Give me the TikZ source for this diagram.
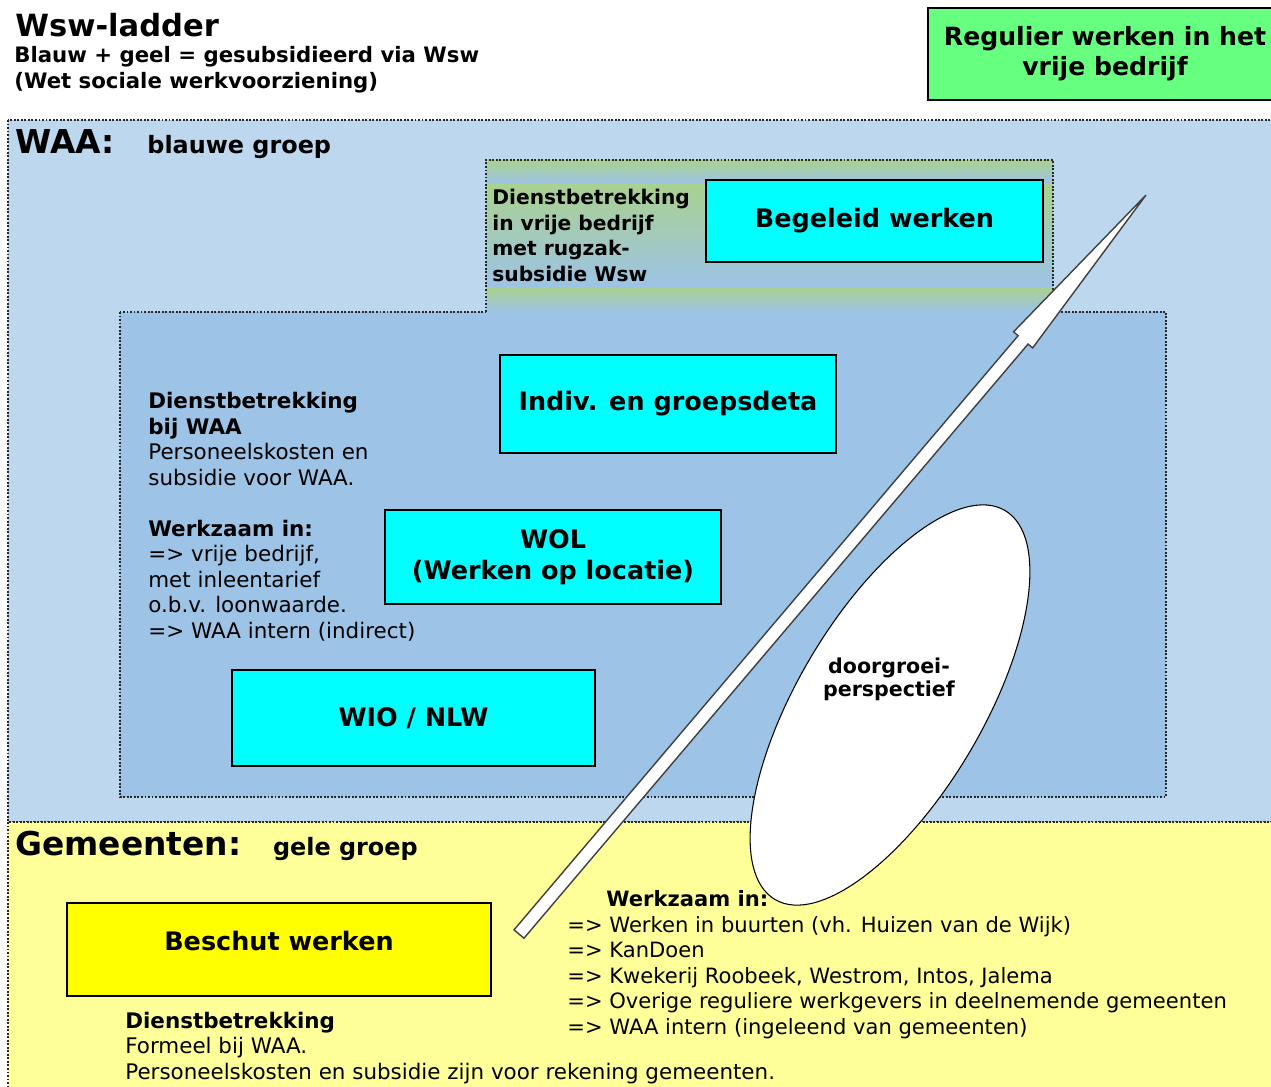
\documentclass[tikz,border=0pt]{standalone}
\usepackage{fontspec}
\setmainfont{DejaVu Sans}
\usetikzlibrary{calc,shapes,positioning}
\definecolor{waablauw}{HTML}{BDD7EE}
\definecolor{waadonker}{HTML}{9DC3E6}
\definecolor{gemgeel}{HTML}{FFFF99}
\definecolor{vrijgroen}{HTML}{66FF80}
\definecolor{rugzakgroen}{HTML}{A9D18E}
\definecolor{beschutgeel}{HTML}{FFFF00}
\definecolor{turkoois}{HTML}{00FFFF}
\tikzset{%
  zone/.style={draw=black!85,line width=0.8pt,dash pattern=on 1.1pt off 0.9pt},
  trede/.style={rectangle,draw,line width=0.7pt,fill=turkoois,align=center,
    inner sep=0pt,font=\bfseries\fontsize{14.5}{17.5}\selectfont},
  kop/.style={anchor=base west,inner sep=0pt,font=\bfseries\fontsize{18.7}{22}\selectfont},
  groep/.style={inner sep=0pt,font=\bfseries\fontsize{13.6}{16}\selectfont},
  uitleg/.style={anchor=base west,inner sep=0pt,align=left,
    font=\fontsize{12.2}{14.5}\selectfont},
  pijl/.style={draw=black!75,line width=0.8pt,fill=white,line join=miter}
}

\begin{document}
\begin{tikzpicture}[x=0.02cm,y=-0.02cm]
  \useasboundingbox (0,0) rectangle (1271,1086);
  \fill[white] (0,0) rectangle (1271,1086);

  % vlakken
  \draw[zone,fill=waablauw]  (8,120) rectangle (1290,822);
  \draw[zone,fill=gemgeel]   (8,822) rectangle (1290,1100);
  \draw[zone,fill=waadonker] (120,312) rectangle (1166,797);
  \shade[top color=rugzakgroen,bottom color=waadonker] (486,160) rectangle (1053,183);
  \shade[top color=rugzakgroen,bottom color=waadonker] (486,183) rectangle (1053,287);
  \shade[top color=rugzakgroen,bottom color=waadonker] (486,287) rectangle (1053,312);
  \draw[zone] (486,312) -- (486,160) -- (1053,160) -- (1053,312);

  % titel (base = laatste regel)
  \node[anchor=base west,inner sep=0pt,font=\bfseries\fontsize{17.4}{20}\selectfont]
    (titel) at (15,36) {Wsw-ladder};
  \node[uitleg,font=\bfseries\fontsize{12.1}{14.5}\selectfont] (ondertitel) at (14,88)
    {Blauw + geel = gesubsidieerd via Wsw\\(Wet sociale werkvoorziening)};
  \node[rectangle,draw,line width=0.7pt,fill=vrijgroen,align=center,
    minimum width=7.08cm,minimum height=1.84cm,
    font=\bfseries\fontsize{14.3}{17}\selectfont] (regulier) at (1105,54)
    {Regulier werken in het\\vrije bedrijf};

  % blauwe groep
  \node[kop] (waa) at (15,153) {WAA:};
  \node[groep,base right=0.64cm of waa] (blauw) {blauwe groep};
  \node[uitleg,font=\bfseries\fontsize{11.5}{14.5}\selectfont] (rugzak) at (492,281)
    {Dienstbetrekking\\in vrije bedrijf\\met rugzak-\\subsidie Wsw};
  \node[trede,minimum width=6.74cm,minimum height=1.64cm] (begeleid) at (874.5,221)
    {Begeleid werken};
  \node[trede,minimum width=6.72cm,minimum height=1.96cm] (detachering) at (668,404)
    {Indiv. en groepsdeta};
  \node[trede,minimum width=6.72cm,minimum height=1.88cm] (wol) at (553,557)
    {WOL\\(Werken op locatie)};
  \node[trede,minimum width=7.26cm,minimum height=1.92cm] (wio) at (413.5,718)
    {WIO / NLW};
  \node[uitleg] (waatekst) at (148,638)
    {\textbf{Dienstbetrekking}\\\textbf{bij WAA}\\Personeelskosten en\\subsidie voor WAA.\\[14.5pt]
     \textbf{Werkzaam in:}\\=> vrije bedrijf,\\met inleentarief\\o.b.v. loonwaarde.\\=> WAA intern (indirect)};

  % gele groep
  \node[kop] (gemeenten) at (15,855) {Gemeenten:};
  \node[groep,base right=0.62cm of gemeenten] (geel) {gele groep};
  \node[trede,fill=beschutgeel,minimum width=8.48cm,minimum height=1.86cm,
    text depth=0.35cm] (beschut) at (279,949.5) {Beschut werken};
  \node[uitleg] (gemtekst) at (125,1079)
    {\textbf{Dienstbetrekking}\\Formeel bij WAA.\\Personeelskosten en subsidie zijn voor rekening gemeenten.};
  \node[uitleg,font=\fontsize{12}{14.5}\selectfont] (werkzaam) at (567,1034)
    {\hspace*{0.78cm}\textbf{Werkzaam in:}\\=> Werken in buurten (vh. Huizen van de Wijk)\\=> KanDoen\\
     => Kwekerij Roobeek, Westrom, Intos, Jalema\\=> Overige reguliere werkgevers in deelnemende gemeenten\\
     => WAA intern (ingeleend van gemeenten)};

  % doorgroei
  \coordinate (staart) at (519,934);
  \coordinate (punt) at (1146,195);
  \coordinate (kopvoet) at ($(punt)!3.8cm!(staart)$);
  \draw[pijl] ($(staart)!0.13cm!90:(punt)$) -- ($(kopvoet)!0.13cm!90:(punt)$)
    -- ($(kopvoet)!0.25cm!90:(punt)$) -- (punt) -- ($(kopvoet)!0.25cm!-90:(punt)$)
    -- ($(kopvoet)!0.13cm!-90:(punt)$) -- ($(staart)!0.13cm!-90:(punt)$) -- cycle;
  \node[ellipse,draw,line width=0.6pt,fill=white,inner sep=0pt,
    minimum width=9.04cm,minimum height=3.7cm,rotate=59.4] (perspectief) at (890,705) {};
  \node[align=center,inner sep=0pt,font=\bfseries\fontsize{11.7}{13}\selectfont]
    (doorgroei) at (889,679) {doorgroei-\\perspectief};
\end{tikzpicture}
\end{document}
